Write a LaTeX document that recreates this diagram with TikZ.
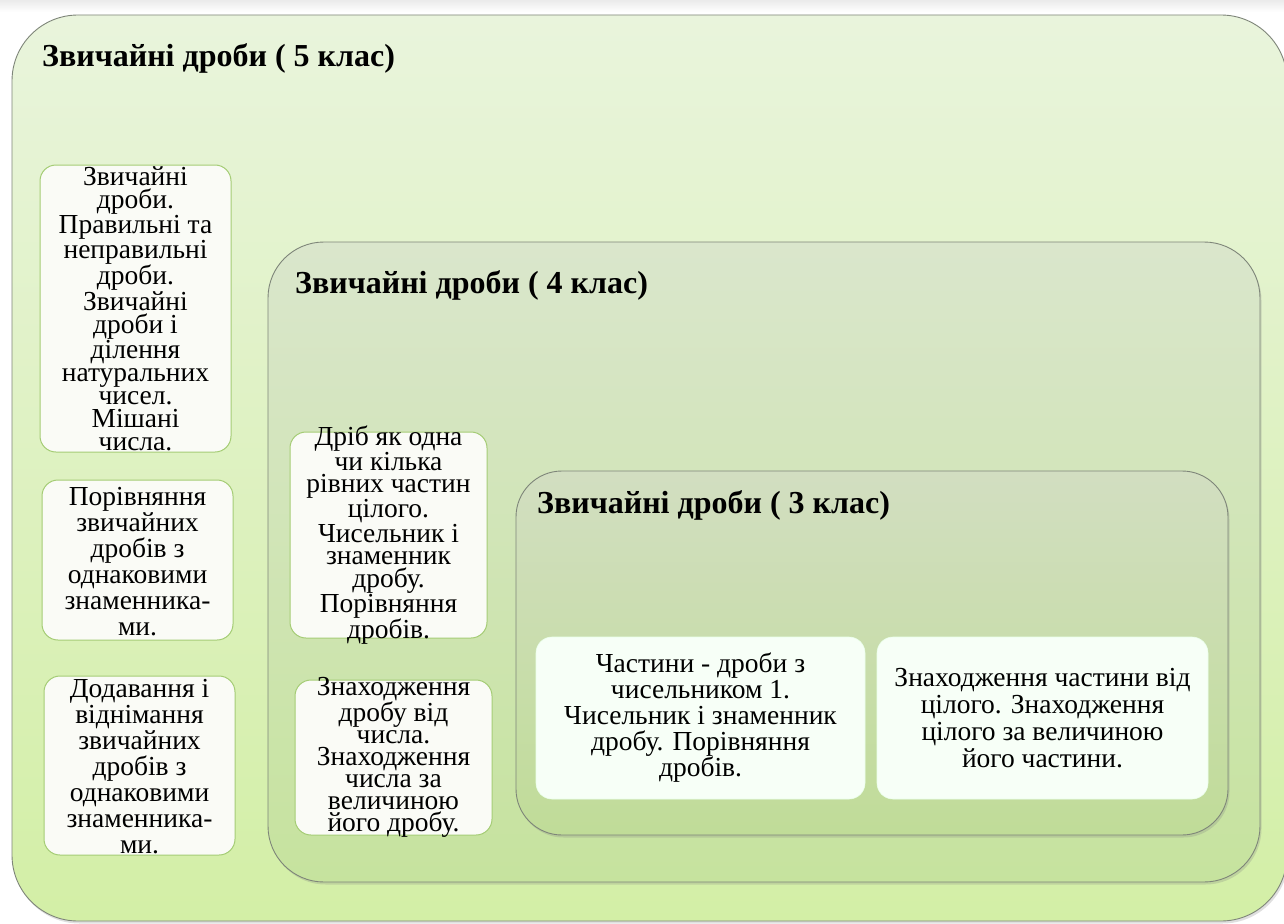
\documentclass[tikz,border=0pt]{standalone}
\usepackage{fontspec}
\setmainfont{Liberation Serif}
\usetikzlibrary{shadows}
\definecolor{outtop}{HTML}{E9F4DC}
\definecolor{outbot}{HTML}{D3EFA6}
\definecolor{midtop}{HTML}{DAE6CC}
\definecolor{midbot}{HTML}{C6E39E}
\definecolor{intop}{HTML}{D2DEC1}
\definecolor{inbot}{HTML}{C0DC98}
\definecolor{boxfill}{HTML}{FAFBF6}
\definecolor{boxline}{HTML}{A4CC74}
\definecolor{frame}{HTML}{7E8579}
\begin{document}
\begin{tikzpicture}[x=1pt,y=-1pt,
  cont/.style={draw=frame, line width=0.9pt, inner sep=0, outer sep=0,
    drop shadow={shadow xshift=1.5pt, shadow yshift=-2.5pt, opacity=0.25}},
  title/.style={anchor=base west, inner sep=0, font=\bfseries\fontsize{32}{34}\selectfont},
  topic/.style={draw=boxline, line width=1pt, fill=boxfill, rounded corners=16pt, inner sep=0},
  topicw/.style={draw=white!92!green, line width=0.6pt, fill=white!97!green, rounded corners=16pt, inner sep=0},
  txt/.style={inner sep=0, align=center, font=\fontsize{27.5}{#1}\selectfont}
]
\useasboundingbox (0,0) rectangle (1284,923);
\fill[white] (0,0) rectangle (1284,923);
\shade[top color=black!8, bottom color=white] (0,0) rectangle (1284,12);

% outer container (5 class)
\node[cont, rounded corners=66pt, top color=outtop, bottom color=outbot,
  minimum width=1275pt, minimum height=906pt] (c5) at (649.5,468) {};
\node[title] (t5) at (42,67) {Звичайні дроби ( 5 клас)};

\node[topic, minimum width=191pt, minimum height=287pt] (a) at (135.5,308.5) {};
\node[txt=23] (at) at (a.center)
  {Звичайні\\дроби.\\Правильні та\\неправильні\\дроби.\\Звичайні\\дроби і\\ділення\\натуральних\\чисел.\\Мішані\\числа.};
\node[topic, minimum width=191pt, minimum height=160pt] (b) at (137.5,560) {};
\node[txt=26] (bt) at ([yshift=-2pt]b.center)
  {Порівняння\\звичайних\\дробів з\\однаковими\\знаменника-\\ми.};
\node[topic, minimum width=191pt, minimum height=179pt] (c) at (139.5,765.5) {};
\node[txt=26] (ct) at ([yshift=-1pt]c.center)
  {Додавання і\\віднімання\\звичайних\\дробів з\\однаковими\\знаменника-\\ми.};

% 4 class container
\node[cont, rounded corners=56pt, top color=midtop, bottom color=midbot,
  minimum width=992pt, minimum height=640pt] (c4) at (764,562) {};
\node[title] (t4) at (295,293) {Звичайні дроби ( 4 клас)};

\node[topic, minimum width=197pt, minimum height=206pt] (d) at (388.5,535) {};
\node[txt=22.5] (dt) at (d.center)
  {Дріб як одна\\чи кілька\\рівних частин\\цілого.\\Чисельник і\\знаменник\\дробу.\\Порівняння\\дробів.};
\node[topic, minimum width=197pt, minimum height=155pt] (e) at (393.5,757.5) {};
\node[txt=22] (et) at (e.center)
  {Знаходження\\дробу від\\числа.\\Знаходження\\числа за\\величиною\\його дробу.};

% 3 class container
\node[cont, rounded corners=46pt, top color=intop, bottom color=inbot,
  minimum width=712pt, minimum height=364pt] (c3) at (872,653) {};
\node[title] (t3) at (537,513) {Звичайні дроби ( 3 клас)};

\node[topicw, minimum width=329pt, minimum height=162pt] (f) at (700.5,718) {};
\node[txt=26] (ft) at (f.center)
  {Частини - дроби з\\чисельником 1.\\Чисельник і знаменник\\дробу. Порівняння\\дробів.};
\node[topicw, minimum width=331pt, minimum height=162pt] (g) at (1042.5,718) {};
\node[txt=27] (gt) at (g.center)
  {Знаходження частини від\\цілого. Знаходження\\цілого за величиною\\його частини.};
\end{tikzpicture}
\end{document}
